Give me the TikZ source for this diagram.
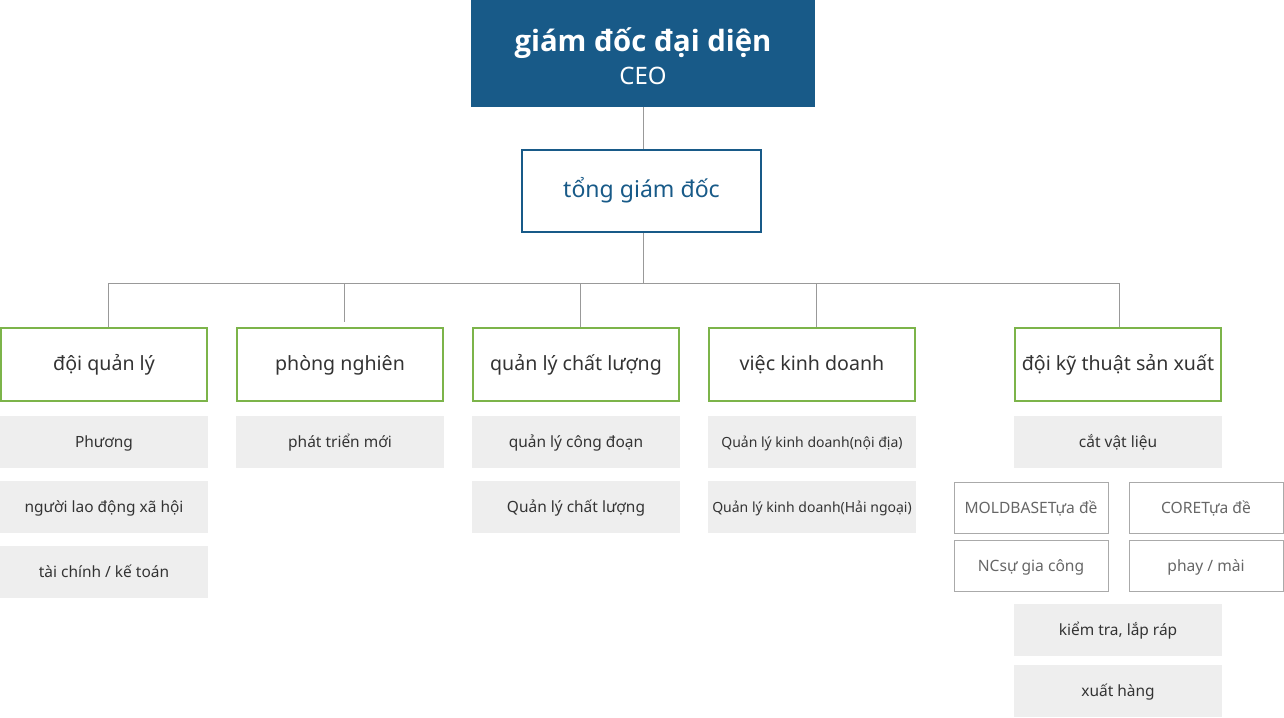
\documentclass[tikz,border=0pt]{standalone}
\usepackage{fontspec}
\setmainfont{Noto Sans}
\newfontfamily\headfont{Open Sans}
\usetikzlibrary{positioning}
\definecolor{ceoblue}{RGB}{24, 90, 136}
\definecolor{deptgreen}{RGB}{124, 180, 74}
\definecolor{subgray}{RGB}{238, 238, 238}
\definecolor{linegray}{RGB}{153, 153, 153}
\definecolor{boxgray}{RGB}{170, 170, 170}
\definecolor{txtdark}{RGB}{51, 51, 51}
\definecolor{txtgray}{RGB}{102, 102, 102}

\begin{document}
\begin{tikzpicture}[x=0.75pt, y=-0.75pt,
    ceobox/.style={fill=ceoblue, minimum width=258pt, minimum height=80.25pt, inner sep=0pt},
    ceotext/.style={text=white, align=center, inner sep=0pt},
    gmbox/.style={draw=ceoblue, line width=1.5pt, text=ceoblue, minimum width=179.25pt, minimum height=61.5pt, inner sep=0pt, text height=0.98em, text depth=0pt, font=\fontsize{17.3}{20}\selectfont},
    deptbox/.style={draw=deptgreen, line width=1.7pt, text=txtdark, minimum width=154.5pt, minimum height=54.6pt, inner sep=0pt, text height=0.94em, text depth=0pt, font=\fontsize{14.7}{18}\selectfont},
    subbox/.style={fill=subgray, text=txtdark, minimum width=156pt, minimum height=39pt, inner sep=0pt, text height=0.88em, text depth=0pt, font=\fontsize{11.6}{14}\selectfont},
    partbox/.style={draw=boxgray, line width=0.75pt, text=txtgray, minimum width=115.5pt, minimum height=38.25pt, inner sep=0pt, text height=0.88em, text depth=0pt, font=\fontsize{11.7}{14}\selectfont},
    conn/.style={draw=linegray, line width=0.75pt}]
  \useasboundingbox (0,0) rectangle (1284,717);

  % top
  \node[ceobox] (ceo) at (643,53.5) {};
  \node[ceotext, yshift=-1.9pt] (ceotitle) at (ceo.center) {{\headfont\bfseries\fontsize{22}{22}\selectfont giám đốc đại diện}\\[5pt]{\fontsize{18}{20}\selectfont CEO}};
  \node[gmbox] (gm) at (641.5,191) {tổng giám đốc};
  \coordinate (bus) at (643,283);

  % departments
  \node[deptbox] (admin) at (104,364.5) {đội quản lý};
  \node[deptbox] (rnd) at (340,364.5) {phòng nghiên};
  \node[deptbox] (qc) at (576,364.5) {quản lý chất lượng};
  \node[deptbox] (sales) at (812,364.5) {việc kinh doanh};
  \node[deptbox] (prod) at (1118,364.5) {đội kỹ thuật sản xuất};

  % sub units
  \node[subbox] (admin1) at (104,441.5) {Phương};
  \node[subbox] (admin2) at (104,506.5) {người lao động xã hội};
  \node[subbox] (admin3) at (104,571.5) {tài chính / kế toán};
  \node[subbox] (rnd1) at (340,441.5) {phát triển mới};
  \node[subbox] (qc1) at (576,441.5) {quản lý công đoạn};
  \node[subbox] (qc2) at (576,506.5) {Quản lý chất lượng};
  \node[subbox, font=\fontsize{10.5}{13}\selectfont] (sales1) at (812,441.5) {Quản lý kinh doanh(nội địa)};
  \node[subbox, font=\fontsize{10.5}{13}\selectfont] (sales2) at (812,506.5) {Quản lý kinh doanh(Hải ngoại)};
  \node[subbox] (prod1) at (1118,441.5) {cắt vật liệu};
  \node[partbox] (mold) at (1031,507.5) {MOLDBASETựa đề};
  \node[partbox] (core) at (1206,507.5) {CORETựa đề};
  \node[partbox] (nc) at (1031,565.5) {NCsự gia công};
  \node[partbox] (mill) at (1206,565.5) {phay / mài};
  \node[subbox] (prod2) at (1118,629.5) {kiểm tra, lắp ráp};
  \node[subbox] (prod3) at (1118,690.5) {xuất hàng};

  % connectors
  \draw[conn] (ceo.south) -- (ceo.south |- gm.north);
  \draw[conn] (bus |- gm.south) -- (bus);
  \draw[conn] (bus) -| ([xshift=3pt]admin.north);
  \draw[conn] (bus) -| ([xshift=3pt,yshift=4pt]rnd.north);
  \draw[conn] (bus) -| ([xshift=3pt]qc.north);
  \draw[conn] (bus) -| ([xshift=3pt]sales.north);
  \draw[conn] (bus) -| ([xshift=0.75pt]prod.north);
\end{tikzpicture}
\end{document}
